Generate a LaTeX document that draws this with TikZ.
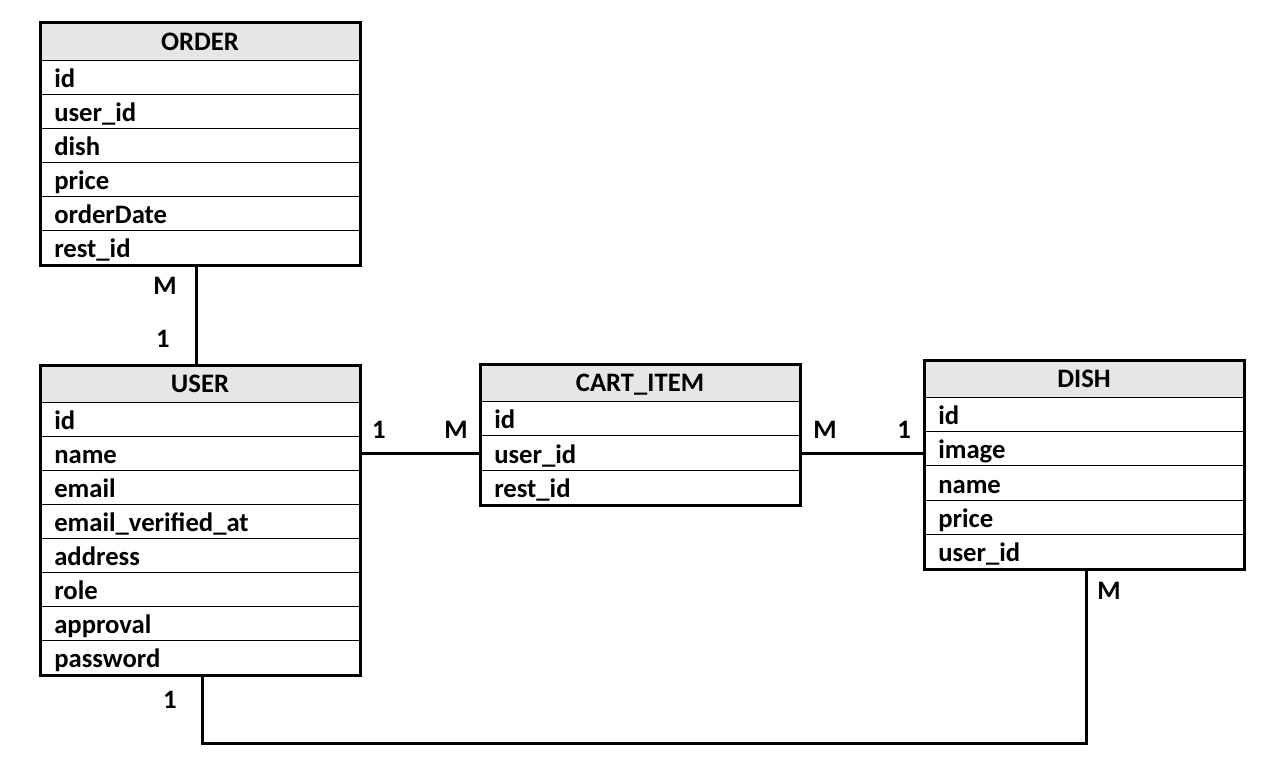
\documentclass[tikz,border=0pt]{standalone}
\usepackage{fontspec}
\setmainfont{Carlito}
\usetikzlibrary{fit,calc}
\definecolor{hdrgray}{HTML}{E6E6E6}
\tikzset{
  tblframe/.style={draw=black, line width=2.25pt, inner sep=0pt},
  rowline/.style={draw=black, line width=0.75pt},
  hdrtext/.style={font=\fontsize{20pt}{24pt}\selectfont\bfseries, inner sep=0pt, anchor=base},
  rowtext/.style={font=\fontsize{20pt}{24pt}\selectfont\bfseries, inner sep=0pt, anchor=base west},
  cardlabel/.style={font=\fontsize{20pt}{24pt}\selectfont\bfseries, inner sep=0pt},
  conn/.style={draw=black, line width=2.25pt}
}
% #1 name, #2 x1, #3 x2, #4 ytop, #5 yhead, #6 ybottom, #7 row height, #8 title, #9 rows
\newcommand{\ertab}[9]{%
  \fill[hdrgray] (#2,#4) rectangle (#3,#5);
  \node[hdrtext] (#1-title) at ({(#2+#3)/2},{(#4+#5)/2+9}) {#8};
  \foreach \txt [count=\k] in {#9} {
    \draw[rowline] (#2,{#5+(\k-1)*#7}) -- (#3,{#5+(\k-1)*#7});
    \coordinate (#1-c\k) at (#2,{#5+(\k-0.5)*#7});
    \node[rowtext] (#1-r\k) at ({#2+14},{#5+(\k-0.5)*#7+10}) {\txt};
  }
  \node[tblframe, fit={(#2,#4)(#3,#6)}] (#1) {};
}
\begin{document}
\begin{tikzpicture}[x=0.75pt,y=-0.75pt]
\useasboundingbox (0,0) rectangle (1284,772);
\fill[white] (0,0) rectangle (1284,772);

\ertab{order}{40}{360}{22}{60}{265}{34.17}{ORDER}{id,user\_id,dish,price,orderDate,rest\_id}
\ertab{user}{40}{360}{365}{402}{675}{34.13}{USER}{id,name,email,email\_verified\_at,address,role,approval,password}
\ertab{cart}{480}{800}{364}{401}{505}{34.67}{CART\_ITEM}{id,user\_id,rest\_id}
\ertab{dish}{924}{1244}{360}{397}{569}{34.4}{DISH}{id,image,name,price,user\_id}

% connectors
\draw[conn] ([xshift=-3pt]order.south) -- ([xshift=-3pt]user.north);
\draw[conn] (user.east |- user-c2) -- (cart.west |- user-c2);
\draw[conn] (cart.east |- cart-c2) -- (dish.west |- cart-c2);
\coordinate (low) at (0,743);
\draw[conn] ([xshift=1.5pt]user.south) -- ([xshift=1.5pt]user.south |- low) -- ([xshift=1.5pt]dish.south |- low) -- ([xshift=1.5pt]dish.south);

% cardinality labels
\node[cardlabel] (lblOM) at (165,286) {M};
\node[cardlabel] (lblO1) at (163,339) {1};
\node[cardlabel] (lblU1) at (379,430) {1};
\node[cardlabel] (lblCM) at (456,430) {M};
\node[cardlabel] (lblCM2) at (825,430) {M};
\node[cardlabel] (lblD1) at (904,430) {1};
\node[cardlabel] (lblU1b) at (170,700) {1};
\node[cardlabel] (lblDM) at (1109,591) {M};
\end{tikzpicture}
\end{document}
